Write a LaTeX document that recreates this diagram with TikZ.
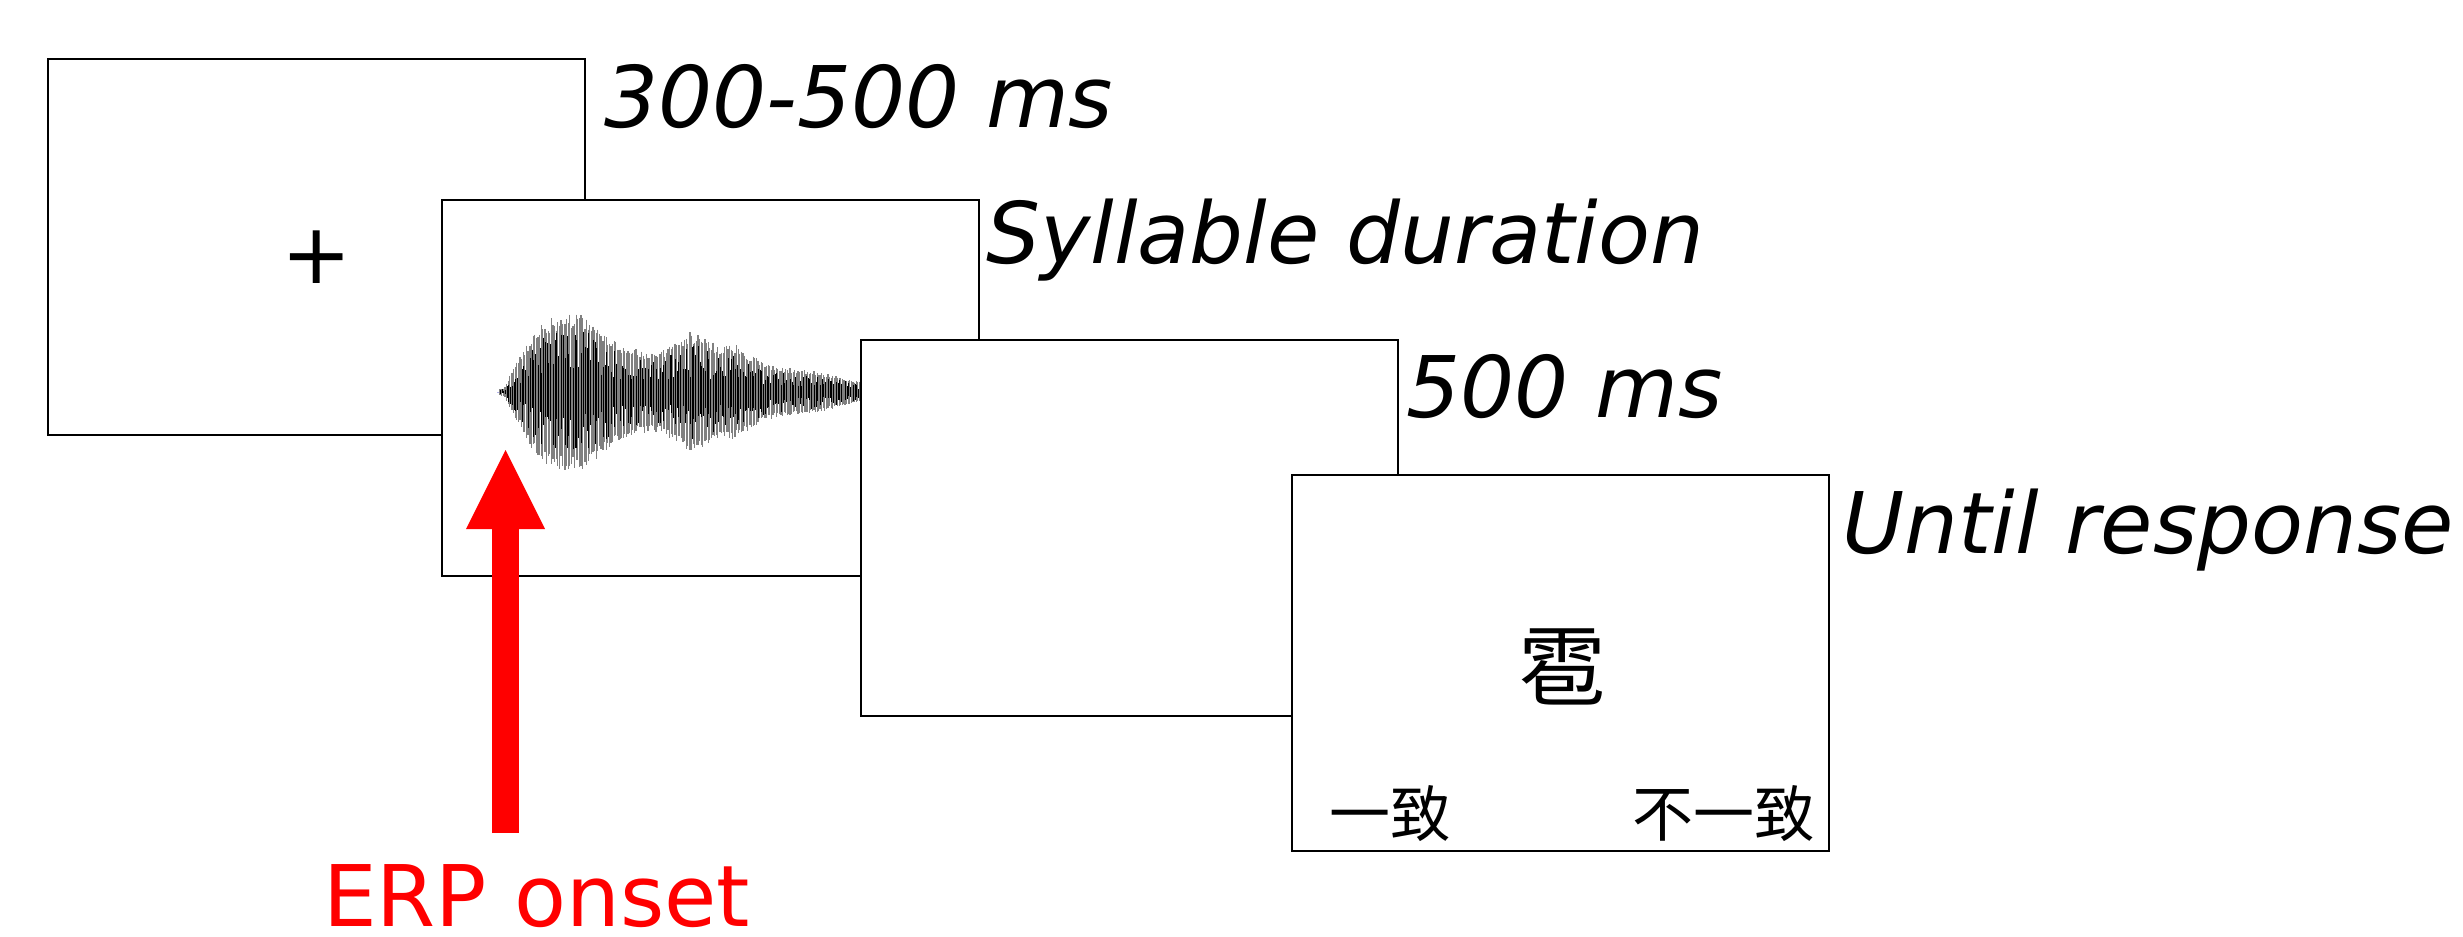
\documentclass[tikz,border=0pt]{standalone}
\usepackage{fontspec}
\newfontfamily\dv{DejaVu Sans}
\newfontfamily\cjk{Noto Sans CJK TC}
\usetikzlibrary{arrows.meta}
\begin{document}
\begin{tikzpicture}[x=1pt,y=-1pt,
  screen/.style={draw=black, line width=2pt, fill=white, minimum width=537pt, minimum height=376pt, inner sep=0pt},
  lbl/.style={font=\dv\itshape\fontsize{85}{100}\selectfont, anchor=base west, inner sep=0pt},
  cjkbig/.style={font=\cjk\fontsize{88}{100}\selectfont, inner sep=0pt},
  cjksmall/.style={font=\cjk\fontsize{61}{70}\selectfont, inner sep=0pt},
  wavelight/.style={draw=black!50, line width=1.2pt},
  wavedark/.style={draw=black, line width=1.3pt},
  onsetarrow/.style={draw=red, line width=27pt, -{Triangle[length=79pt,width=79pt,line width=0pt]}}]
\fill[white] (0,0) rectangle (2463,937);
\useasboundingbox (0,0) rectangle (2463,937);
% screen 1
\node[screen] (s1) at (316.5,247) {};
\node[font=\dv\fontsize{84}{90}\selectfont, inner sep=0pt] (plus) at (317,257) {+};
% screen 2
\node[screen] (s2) at (710,387.5) {};
% waveform
\draw[draw=black!30!blue!30, line width=0.8pt] (497,392) -- (861,392);
\pgfmathsetseed{12}
\foreach \xa/\aa/\xb/\ab in {500/3/505/5, 505/5/512/22, 512/22/520/35, 520/35/530/55, 530/55/545/72, 545/72/565/79, 565/79/585/77, 585/77/603/62, 603/62/620/47, 620/47/640/42, 640/42/660/40, 660/40/675/50, 675/50/690/60, 690/60/705/55, 705/55/720/45, 720/45/735/48, 735/48/750/38, 750/38/765/28, 765/28/790/24, 790/24/820/20, 820/20/845/14, 845/14/862/10}{
  \pgfmathtruncatemacro\N{(\xb-\xa)/1.6-0.5}
  \foreach \i in {0,...,\N}{
    \pgfmathsetmacro\x{\xa+1.6*\i}
    \pgfmathsetmacro\amp{\aa+(\ab-\aa)*(\x-\xa)/(\xb-\xa)}
    \pgfmathsetmacro\ra{0.8+0.2*rnd}
    \pgfmathsetmacro\rb{0.8+0.2*rnd}
    \draw[wavelight] (\x,392-\amp*\ra) -- (\x,392+\amp*\rb);
    \pgfmathsetmacro\rc{0.25+0.55*rnd}
    \pgfmathsetmacro\rd{0.25+0.55*rnd}
    \draw[wavedark] (\x+0.8,392-\amp*\rc) -- (\x+0.8,392+\amp*\rd);
  }
}
% screen 3
\node[screen] (s3) at (1129.5,528) {};
% screen 4
\node[screen] (s4) at (1560.5,663) {};
\node[cjkbig] (char) at (1562,667) {雹};
\node[cjksmall] (yes) at (1390,814) {一致};
\node[cjksmall] (no) at (1724,814) {不一致};
% labels
\node[lbl] (t1) at (604,127) {300-500 ms};
\node[lbl] (t2) at (986,263) {Syllable duration};
\node[lbl] (t3) at (1406,417) {500 ms};
\node[lbl] (t4) at (1842,553) {Until response};
% ERP onset arrow
\node[font=\dv\fontsize{85}{100}\selectfont, text=red, anchor=base west, inner sep=0pt, text depth=0pt] (erp) at (323,926) {ERP onset};
\coordinate (tail) at (505.5,833);
\coordinate (tip) at (505.5,450);
\draw[onsetarrow] (tail) -- (tip);
\end{tikzpicture}
\end{document}
